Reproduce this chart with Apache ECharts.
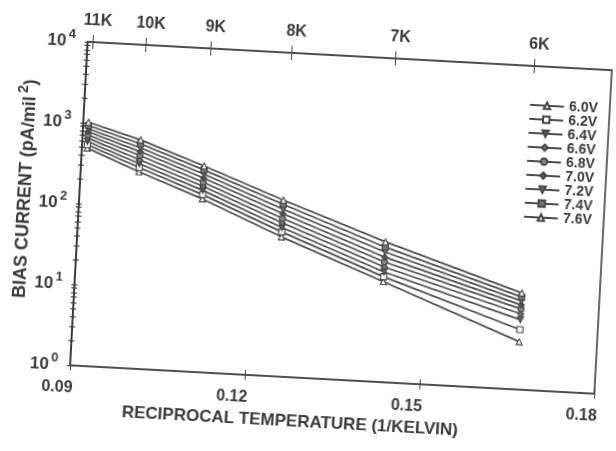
<!DOCTYPE html>
<html>
<head>
<meta charset="utf-8">
<script src="https://cdn.jsdelivr.net/npm/echarts@6/dist/echarts.min.js"></script>
<style>
  html, body { margin: 0; padding: 0; background: #fff; }
  #chart { width: 616px; height: 451px; transform: rotate(3.1deg); transform-origin: 50% 50%; }
</style>
</head>
<body>
<div id="chart"></div>
<script>
// Measurement temperatures (kelvin); plotted against 1/T
const tempsK = [11, 10, 9, 8, 7, 6];
const tempLabels = ['11K', '10K', '9K', '8K', '7K', '6K'];

// Bias voltages and the bias current (pA/mil^2) measured at each temperature
const voltages = ['6.0V', '6.2V', '6.4V', '6.6V', '6.8V', '7.0V', '7.2V', '7.4V', '7.6V'];
const i60 = [490, 270, 138, 53, 17.4, 3.9];
const i62 = [540, 305, 156, 61, 20, 5.5];
const i64 = [590, 340, 176, 69, 23, 7.3];
const i66 = [650, 380, 198, 79, 26.5, 8.6];
const i68 = [710, 430, 222, 90, 30.5, 9.9];
const i70 = [780, 480, 250, 103, 35, 11.1];
const i72 = [850, 535, 280, 117, 40.5, 12.4];
const i74 = [930, 600, 315, 134, 46.5, 13.9];
const i76 = [1020, 670, 352, 151, 54, 15.6];
const currents = [i60, i62, i64, i66, i68, i70, i72, i74, i76];

// Axis ticks
const xTicks = [0.09, 0.12, 0.15, 0.18];
const yDecades = [1, 10, 100, 1000, 10000];

const recip = tempsK.map(t => 1 / t);
const yMinor = [];
yDecades.slice(0, -1).forEach(d => { for (let k = 1; k <= 9; k++) yMinor.push(d * k); });
yMinor.push(10000);

const ink = '#3a3a3a';
const lineInk = '#4c4c4c';
const font = 'Liberation Sans';

const markers = [
  { symbol: 'triangle', fill: '#fff', rot: 0 },
  { symbol: 'rect', fill: '#fff', rot: 0 },
  { symbol: 'triangle', fill: '#666', rot: 180 },
  { symbol: 'diamond', fill: '#777', rot: 0 },
  { symbol: 'circle', fill: '#888', rot: 0 },
  { symbol: 'diamond', fill: '#555', rot: 0 },
  { symbol: 'triangle', fill: '#777', rot: 180 },
  { symbol: 'rect', fill: '#777', rot: 0 },
  { symbol: 'triangle', fill: '#fff', rot: 0 }
];

const series = voltages.map((v, i) => ({
  name: v,
  type: 'line',
  xAxisIndex: 0,
  yAxisIndex: 0,
  data: currents[i].map((c, j) => [recip[j], c]),
  symbol: markers[i].symbol,
  symbolRotate: markers[i].rot,
  symbolSize: 6,
  lineStyle: { color: lineInk, width: 1.7 },
  itemStyle: { color: markers[i].fill, borderColor: '#444', borderWidth: 1.1 },
  emphasis: { disabled: true }
}));

const supRich = {
  b: { fontFamily: font, fontWeight: 'bold', fontSize: 17, color: ink },
  e: { fontFamily: font, fontWeight: 'bold', fontSize: 13, color: ink, padding: [0, 0, 13, 2] }
};

const chart = echarts.init(document.getElementById('chart'), null, { renderer: 'canvas' });
chart.setOption({
  animation: false,
  backgroundColor: '#fff',
  grid: {
    left: 78, top: 54, width: 525, height: 324, outerBoundsMode: 'none', containLabel: false,
    show: true, borderColor: '#444', borderWidth: 1.6, backgroundColor: 'transparent'
  },
  legend: {
    orient: 'vertical',
    right: 20,
    top: 81,
    itemWidth: 34,
    itemHeight: 8,
    itemGap: 0,
    data: voltages,
    textStyle: { fontFamily: font, fontWeight: 'bold', fontSize: 14, lineHeight: 14, color: ink }
  },
  xAxis: [
    {
      type: 'value', position: 'bottom', min: 0.09, max: 0.18, interval: 0.03,
      name: 'RECIPROCAL TEMPERATURE (1/KELVIN)', nameLocation: 'middle', nameGap: 36,
      nameTextStyle: { fontFamily: font, fontWeight: 'bold', fontSize: 17, color: ink, padding: [0, 80, 0, 0] },
      axisLine: { show: true, lineStyle: { color: '#444', width: 1.6 } },
      axisTick: { show: true, customValues: xTicks, length: 5, lineStyle: { color: '#444' } },
      axisLabel: { customValues: xTicks, formatter: v => v.toFixed(2), margin: 13, padding: [2, 24, 0, 0],
        fontFamily: font, fontWeight: 'bold', fontSize: 16, color: ink },
      splitLine: { show: false }
    },
    {
      type: 'value', position: 'top', min: 0.09, max: 0.18,
      axisLine: { show: true, lineStyle: { color: '#444', width: 1.6 } },
      axisTick: { show: true, customValues: recip, length: 7, lineStyle: { color: '#444' } },
      axisLabel: { customValues: recip, margin: 13, padding: [0, 0, 0, 8],
        formatter: v => tempLabels[recip.findIndex(r => Math.abs(r - v) < 1e-9)] || '',
        fontFamily: font, fontWeight: 'bold', fontSize: 16, color: ink },
      splitLine: { show: false }
    },
    {
      type: 'value', position: 'top', min: 0.09, max: 0.18,
      axisLine: { show: false },
      axisTick: { show: true, inside: true, customValues: recip, length: 7, lineStyle: { color: '#444' } },
      axisLabel: { show: false }, splitLine: { show: false }
    },
    {
      type: 'value', position: 'bottom', min: 0.09, max: 0.18,
      axisLine: { show: false },
      axisTick: { show: true, inside: true, customValues: xTicks, length: 5, lineStyle: { color: '#444' } },
      axisLabel: { show: false }, splitLine: { show: false }
    }
  ],
  yAxis: [
    {
      type: 'log', logBase: 10, min: 1, max: 10000, position: 'left',
      name: 'BIAS CURRENT (pA/mil{s|2})', nameLocation: 'middle', nameGap: 40, nameRotate: 90,
      nameMoveOverlap: false,
      nameTextStyle: {
        fontFamily: font, fontWeight: 'bold', fontSize: 18, color: ink, padding: [0, 0, 0, 24],
        rich: { s: { fontFamily: font, fontWeight: 'bold', fontSize: 14, color: ink, padding: [0, 0, 14, 3] } }
      },
      axisLine: { show: true, lineStyle: { color: '#333', width: 1.6 } },
      axisTick: { show: true, customValues: yMinor, length: 3, lineStyle: { color: '#333' } },
      axisLabel: {
        customValues: yDecades, margin: 12,
        formatter: v => '{b|10}{e|' + Math.round(Math.log10(v)) + '}',
        rich: supRich
      },
      splitLine: { show: false }
    },
    {
      type: 'log', logBase: 10, min: 1, max: 10000, position: 'left',
      axisLine: { show: false },
      axisTick: { show: true, inside: true, customValues: yMinor, length: 3, lineStyle: { color: '#333' } },
      axisLabel: { show: false }, splitLine: { show: false }
    }
  ],
  series: series
});
</script>
</body>
</html>
